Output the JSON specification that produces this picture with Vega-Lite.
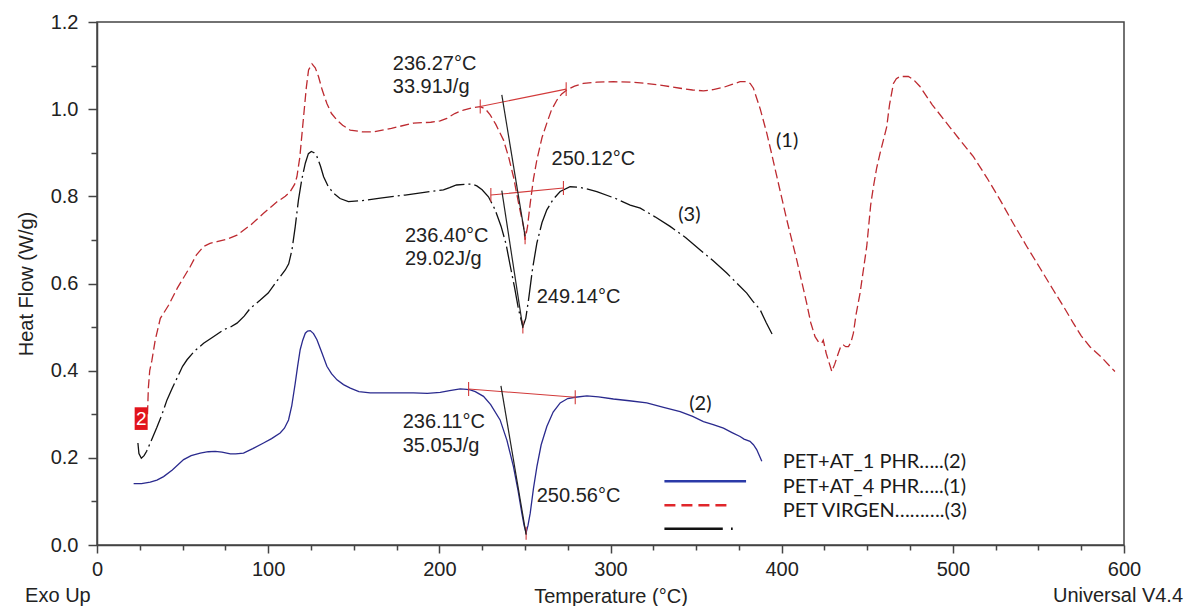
{
  "$schema": "https://vega.github.io/schema/vega-lite/v6.json",
  "width": 1027,
  "height": 523,
  "autosize": {"type": "none"},
  "padding": {"left": 97, "top": 22, "right": 64, "bottom": 61},
  "background": "white",
  "config": {
    "view": {"stroke": "#444", "strokeWidth": 1.5},
    "axis": {
      "domainColor": "#444", "domainWidth": 1.5, "tickColor": "#444", "tickWidth": 1.5,
      "labelFont": "Liberation Sans", "labelFontSize": 20, "labelColor": "#222",
      "titleFont": "Liberation Sans", "titleFontSize": 20, "titleFontWeight": "normal", "titleColor": "#222",
      "grid": false, "labelOverlap": false, "labelFlush": false
    }
  },
  "datasets": {
    "curves": [
      {"s": "r", "T": 29.5, "hf": 0.30}, {"s": "r", "T": 30.0, "hf": 0.36}, {"s": "r", "T": 30.8, "hf": 0.40}, {"s": "r", "T": 32.1, "hf": 0.424}, {"s": "r", "T": 34, "hf": 0.47}, {"s": "r", "T": 37, "hf": 0.52}, {"s": "r", "T": 41.8, "hf": 0.55}, {"s": "r", "T": 47, "hf": 0.59}, {"s": "r", "T": 54.5, "hf": 0.639}, {"s": "r", "T": 58, "hf": 0.665}, {"s": "r", "T": 62.3, "hf": 0.685}, {"s": "r", "T": 66, "hf": 0.692}, {"s": "r", "T": 70.1, "hf": 0.696}, {"s": "r", "T": 76, "hf": 0.702}, {"s": "r", "T": 81.8, "hf": 0.711}, {"s": "r", "T": 90, "hf": 0.735}, {"s": "r", "T": 97.3, "hf": 0.761}, {"s": "r", "T": 105, "hf": 0.787}, {"s": "r", "T": 110, "hf": 0.8}, {"s": "r", "T": 112.9, "hf": 0.811}, {"s": "r", "T": 115.5, "hf": 0.828}, {"s": "r", "T": 116.8, "hf": 0.845}, {"s": "r", "T": 118.5, "hf": 0.89}, {"s": "r", "T": 120.7, "hf": 0.983}, {"s": "r", "T": 122.3, "hf": 1.05}, {"s": "r", "T": 123.6, "hf": 1.09}, {"s": "r", "T": 125.6, "hf": 1.104}, {"s": "r", "T": 127.5, "hf": 1.095}, {"s": "r", "T": 129.4, "hf": 1.075}, {"s": "r", "T": 131.5, "hf": 1.045}, {"s": "r", "T": 134.3, "hf": 1.013}, {"s": "r", "T": 137, "hf": 0.99}, {"s": "r", "T": 140.2, "hf": 0.975}, {"s": "r", "T": 143.5, "hf": 0.963}, {"s": "r", "T": 147.9, "hf": 0.952}, {"s": "r", "T": 155, "hf": 0.948}, {"s": "r", "T": 161.5, "hf": 0.948}, {"s": "r", "T": 172, "hf": 0.956}, {"s": "r", "T": 184.9, "hf": 0.968}, {"s": "r", "T": 195, "hf": 0.97}, {"s": "r", "T": 200.5, "hf": 0.973}, {"s": "r", "T": 204.4, "hf": 0.979}, {"s": "r", "T": 209, "hf": 0.99}, {"s": "r", "T": 214.1, "hf": 0.998}, {"s": "r", "T": 219, "hf": 1.003}, {"s": "r", "T": 223.9, "hf": 1.006}, {"s": "r", "T": 227, "hf": 1.0}, {"s": "r", "T": 229.7, "hf": 0.987}, {"s": "r", "T": 233, "hf": 0.965}, {"s": "r", "T": 237.5, "hf": 0.929}, {"s": "r", "T": 240.5, "hf": 0.89}, {"s": "r", "T": 243.3, "hf": 0.845}, {"s": "r", "T": 246.5, "hf": 0.78}, {"s": "r", "T": 249.2, "hf": 0.731}, {"s": "r", "T": 250.1, "hf": 0.7}, {"s": "r", "T": 251.5, "hf": 0.73}, {"s": "r", "T": 253.1, "hf": 0.784}, {"s": "r", "T": 255, "hf": 0.84}, {"s": "r", "T": 257, "hf": 0.884}, {"s": "r", "T": 260, "hf": 0.935}, {"s": "r", "T": 262.8, "hf": 0.968}, {"s": "r", "T": 265.5, "hf": 0.998}, {"s": "r", "T": 268.7, "hf": 1.021}, {"s": "r", "T": 271.5, "hf": 1.035}, {"s": "r", "T": 274.5, "hf": 1.044}, {"s": "r", "T": 279, "hf": 1.053}, {"s": "r", "T": 284.2, "hf": 1.059}, {"s": "r", "T": 292, "hf": 1.062}, {"s": "r", "T": 301.7, "hf": 1.063}, {"s": "r", "T": 312, "hf": 1.062}, {"s": "r", "T": 321.2, "hf": 1.059}, {"s": "r", "T": 331, "hf": 1.054}, {"s": "r", "T": 340.7, "hf": 1.048}, {"s": "r", "T": 348, "hf": 1.044}, {"s": "r", "T": 354.3, "hf": 1.042}, {"s": "r", "T": 360, "hf": 1.045}, {"s": "r", "T": 366, "hf": 1.05}, {"s": "r", "T": 371, "hf": 1.057}, {"s": "r", "T": 375.7, "hf": 1.063}, {"s": "r", "T": 379.6, "hf": 1.063}, {"s": "r", "T": 381.6, "hf": 1.059}, {"s": "r", "T": 383.5, "hf": 1.048}, {"s": "r", "T": 384.5, "hf": 1.036}, {"s": "r", "T": 387.5, "hf": 1.0}, {"s": "r", "T": 391.3, "hf": 0.945}, {"s": "r", "T": 394, "hf": 0.9}, {"s": "r", "T": 397.2, "hf": 0.845}, {"s": "r", "T": 403, "hf": 0.746}, {"s": "r", "T": 408.8, "hf": 0.654}, {"s": "r", "T": 414.6, "hf": 0.555}, {"s": "r", "T": 417, "hf": 0.51}, {"s": "r", "T": 419.5, "hf": 0.478}, {"s": "r", "T": 421.5, "hf": 0.466}, {"s": "r", "T": 423.4, "hf": 0.463}, {"s": "r", "T": 424.3, "hf": 0.47}, {"s": "r", "T": 426, "hf": 0.44}, {"s": "r", "T": 429.3, "hf": 0.398}, {"s": "r", "T": 431, "hf": 0.415}, {"s": "r", "T": 433.1, "hf": 0.44}, {"s": "r", "T": 434.5, "hf": 0.455}, {"s": "r", "T": 436, "hf": 0.459}, {"s": "r", "T": 437.5, "hf": 0.455}, {"s": "r", "T": 439, "hf": 0.455}, {"s": "r", "T": 440.5, "hf": 0.465}, {"s": "r", "T": 441.9, "hf": 0.486}, {"s": "r", "T": 443.5, "hf": 0.53}, {"s": "r", "T": 445.8, "hf": 0.578}, {"s": "r", "T": 449.7, "hf": 0.685}, {"s": "r", "T": 452, "hf": 0.78}, {"s": "r", "T": 453.6, "hf": 0.822}, {"s": "r", "T": 455.5, "hf": 0.865}, {"s": "r", "T": 457.5, "hf": 0.899}, {"s": "r", "T": 459.5, "hf": 0.93}, {"s": "r", "T": 461.4, "hf": 0.96}, {"s": "r", "T": 463, "hf": 1.01}, {"s": "r", "T": 465.3, "hf": 1.059}, {"s": "r", "T": 467, "hf": 1.07}, {"s": "r", "T": 469.2, "hf": 1.075}, {"s": "r", "T": 474, "hf": 1.075}, {"s": "r", "T": 477, "hf": 1.068}, {"s": "r", "T": 480.8, "hf": 1.052}, {"s": "r", "T": 488, "hf": 1.01}, {"s": "r", "T": 496.4, "hf": 0.968}, {"s": "r", "T": 504, "hf": 0.93}, {"s": "r", "T": 512, "hf": 0.891}, {"s": "r", "T": 520, "hf": 0.842}, {"s": "r", "T": 527.6, "hf": 0.792}, {"s": "r", "T": 535, "hf": 0.74}, {"s": "r", "T": 543.2, "hf": 0.685}, {"s": "r", "T": 551, "hf": 0.635}, {"s": "r", "T": 558.7, "hf": 0.585}, {"s": "r", "T": 565, "hf": 0.545}, {"s": "r", "T": 570.4, "hf": 0.509}, {"s": "r", "T": 575, "hf": 0.48}, {"s": "r", "T": 580.1, "hf": 0.455}, {"s": "r", "T": 587, "hf": 0.43}, {"s": "r", "T": 594.7, "hf": 0.398},

      {"s": "k", "T": 23.9, "hf": 0.234}, {"s": "k", "T": 24.5, "hf": 0.21}, {"s": "k", "T": 25.9, "hf": 0.199}, {"s": "k", "T": 27.5, "hf": 0.205}, {"s": "k", "T": 29, "hf": 0.215}, {"s": "k", "T": 31.1, "hf": 0.234}, {"s": "k", "T": 35, "hf": 0.27}, {"s": "k", "T": 38, "hf": 0.3}, {"s": "k", "T": 40.9, "hf": 0.333}, {"s": "k", "T": 44, "hf": 0.36}, {"s": "k", "T": 47, "hf": 0.385}, {"s": "k", "T": 50, "hf": 0.41}, {"s": "k", "T": 52.6, "hf": 0.425}, {"s": "k", "T": 57, "hf": 0.445}, {"s": "k", "T": 62.3, "hf": 0.463}, {"s": "k", "T": 68, "hf": 0.478}, {"s": "k", "T": 74, "hf": 0.494}, {"s": "k", "T": 78, "hf": 0.5}, {"s": "k", "T": 81.8, "hf": 0.509}, {"s": "k", "T": 86, "hf": 0.525}, {"s": "k", "T": 89.5, "hf": 0.543}, {"s": "k", "T": 95.4, "hf": 0.562}, {"s": "k", "T": 100, "hf": 0.578}, {"s": "k", "T": 105, "hf": 0.605}, {"s": "k", "T": 110, "hf": 0.631}, {"s": "k", "T": 112, "hf": 0.645}, {"s": "k", "T": 113.9, "hf": 0.677}, {"s": "k", "T": 115.8, "hf": 0.73}, {"s": "k", "T": 117.7, "hf": 0.792}, {"s": "k", "T": 119.7, "hf": 0.84}, {"s": "k", "T": 121.7, "hf": 0.876}, {"s": "k", "T": 123.5, "hf": 0.898}, {"s": "k", "T": 125.2, "hf": 0.903}, {"s": "k", "T": 126.8, "hf": 0.9}, {"s": "k", "T": 128.5, "hf": 0.891}, {"s": "k", "T": 130.5, "hf": 0.87}, {"s": "k", "T": 132.4, "hf": 0.845}, {"s": "k", "T": 135, "hf": 0.823}, {"s": "k", "T": 138.2, "hf": 0.807}, {"s": "k", "T": 142, "hf": 0.795}, {"s": "k", "T": 146.9, "hf": 0.788}, {"s": "k", "T": 155, "hf": 0.79}, {"s": "k", "T": 165.5, "hf": 0.796}, {"s": "k", "T": 180, "hf": 0.803}, {"s": "k", "T": 194.7, "hf": 0.811}, {"s": "k", "T": 202.4, "hf": 0.815}, {"s": "k", "T": 206, "hf": 0.82}, {"s": "k", "T": 210, "hf": 0.826}, {"s": "k", "T": 216.1, "hf": 0.828}, {"s": "k", "T": 219, "hf": 0.828}, {"s": "k", "T": 221.9, "hf": 0.824}, {"s": "k", "T": 225, "hf": 0.815}, {"s": "k", "T": 228.7, "hf": 0.799}, {"s": "k", "T": 232.5, "hf": 0.77}, {"s": "k", "T": 236.1, "hf": 0.731}, {"s": "k", "T": 239, "hf": 0.69}, {"s": "k", "T": 241.5, "hf": 0.639}, {"s": "k", "T": 244, "hf": 0.59}, {"s": "k", "T": 246.3, "hf": 0.54}, {"s": "k", "T": 248.8, "hf": 0.501}, {"s": "k", "T": 250.5, "hf": 0.52}, {"s": "k", "T": 252.1, "hf": 0.562}, {"s": "k", "T": 254.5, "hf": 0.635}, {"s": "k", "T": 257, "hf": 0.693}, {"s": "k", "T": 260, "hf": 0.74}, {"s": "k", "T": 262.8, "hf": 0.769}, {"s": "k", "T": 266.5, "hf": 0.793}, {"s": "k", "T": 270.6, "hf": 0.811}, {"s": "k", "T": 276.4, "hf": 0.822}, {"s": "k", "T": 282, "hf": 0.821}, {"s": "k", "T": 292, "hf": 0.811}, {"s": "k", "T": 303, "hf": 0.795}, {"s": "k", "T": 311.5, "hf": 0.78}, {"s": "k", "T": 317.4, "hf": 0.773}, {"s": "k", "T": 326, "hf": 0.753}, {"s": "k", "T": 334.8, "hf": 0.731}, {"s": "k", "T": 344, "hf": 0.705}, {"s": "k", "T": 352.4, "hf": 0.677}, {"s": "k", "T": 360, "hf": 0.652}, {"s": "k", "T": 367.9, "hf": 0.624}, {"s": "k", "T": 374, "hf": 0.6}, {"s": "k", "T": 379.6, "hf": 0.578}, {"s": "k", "T": 383, "hf": 0.56}, {"s": "k", "T": 387.4, "hf": 0.54}, {"s": "k", "T": 391, "hf": 0.51}, {"s": "k", "T": 395.2, "hf": 0.478},

      {"s": "b", "T": 21.4, "hf": 0.141}, {"s": "b", "T": 26, "hf": 0.141}, {"s": "b", "T": 31.1, "hf": 0.144}, {"s": "b", "T": 35, "hf": 0.149}, {"s": "b", "T": 38.9, "hf": 0.157}, {"s": "b", "T": 44, "hf": 0.172}, {"s": "b", "T": 50.6, "hf": 0.196}, {"s": "b", "T": 55, "hf": 0.205}, {"s": "b", "T": 60.3, "hf": 0.211}, {"s": "b", "T": 65, "hf": 0.214}, {"s": "b", "T": 69.1, "hf": 0.215}, {"s": "b", "T": 73, "hf": 0.213}, {"s": "b", "T": 77.9, "hf": 0.209}, {"s": "b", "T": 81, "hf": 0.209}, {"s": "b", "T": 85.6, "hf": 0.211}, {"s": "b", "T": 91, "hf": 0.221}, {"s": "b", "T": 97.3, "hf": 0.234}, {"s": "b", "T": 102, "hf": 0.244}, {"s": "b", "T": 107, "hf": 0.257}, {"s": "b", "T": 109.5, "hf": 0.268}, {"s": "b", "T": 111.9, "hf": 0.287}, {"s": "b", "T": 113.8, "hf": 0.32}, {"s": "b", "T": 115.8, "hf": 0.371}, {"s": "b", "T": 117.2, "hf": 0.41}, {"s": "b", "T": 118.7, "hf": 0.448}, {"s": "b", "T": 120.2, "hf": 0.47}, {"s": "b", "T": 121.7, "hf": 0.486}, {"s": "b", "T": 123, "hf": 0.491}, {"s": "b", "T": 124.6, "hf": 0.492}, {"s": "b", "T": 126.5, "hf": 0.485}, {"s": "b", "T": 128.5, "hf": 0.471}, {"s": "b", "T": 131, "hf": 0.445}, {"s": "b", "T": 134.3, "hf": 0.41}, {"s": "b", "T": 137, "hf": 0.393}, {"s": "b", "T": 140.2, "hf": 0.379}, {"s": "b", "T": 144, "hf": 0.368}, {"s": "b", "T": 148, "hf": 0.36}, {"s": "b", "T": 153, "hf": 0.352}, {"s": "b", "T": 159.6, "hf": 0.349}, {"s": "b", "T": 170, "hf": 0.349}, {"s": "b", "T": 184.9, "hf": 0.349}, {"s": "b", "T": 193, "hf": 0.348}, {"s": "b", "T": 200.5, "hf": 0.35}, {"s": "b", "T": 206, "hf": 0.354}, {"s": "b", "T": 212.2, "hf": 0.358}, {"s": "b", "T": 216, "hf": 0.357}, {"s": "b", "T": 218, "hf": 0.356}, {"s": "b", "T": 221, "hf": 0.352}, {"s": "b", "T": 225.8, "hf": 0.341}, {"s": "b", "T": 230, "hf": 0.322}, {"s": "b", "T": 235.5, "hf": 0.287}, {"s": "b", "T": 239.5, "hf": 0.24}, {"s": "b", "T": 243.3, "hf": 0.18}, {"s": "b", "T": 246, "hf": 0.125}, {"s": "b", "T": 248.2, "hf": 0.073}, {"s": "b", "T": 249.5, "hf": 0.045}, {"s": "b", "T": 250.7, "hf": 0.028}, {"s": "b", "T": 251.8, "hf": 0.045}, {"s": "b", "T": 253.1, "hf": 0.073}, {"s": "b", "T": 255, "hf": 0.13}, {"s": "b", "T": 257, "hf": 0.18}, {"s": "b", "T": 259.5, "hf": 0.23}, {"s": "b", "T": 262.8, "hf": 0.272}, {"s": "b", "T": 266.5, "hf": 0.305}, {"s": "b", "T": 270.6, "hf": 0.326}, {"s": "b", "T": 275, "hf": 0.336}, {"s": "b", "T": 279.4, "hf": 0.339}, {"s": "b", "T": 286.2, "hf": 0.342}, {"s": "b", "T": 293, "hf": 0.34}, {"s": "b", "T": 301.7, "hf": 0.335}, {"s": "b", "T": 311, "hf": 0.331}, {"s": "b", "T": 321.2, "hf": 0.326}, {"s": "b", "T": 331, "hf": 0.316}, {"s": "b", "T": 340.7, "hf": 0.306}, {"s": "b", "T": 348, "hf": 0.295}, {"s": "b", "T": 354.3, "hf": 0.283}, {"s": "b", "T": 360, "hf": 0.276}, {"s": "b", "T": 366, "hf": 0.268}, {"s": "b", "T": 371, "hf": 0.258}, {"s": "b", "T": 375.7, "hf": 0.249}, {"s": "b", "T": 378, "hf": 0.243}, {"s": "b", "T": 381.5, "hf": 0.238}, {"s": "b", "T": 383.5, "hf": 0.23}, {"s": "b", "T": 385.4, "hf": 0.219}, {"s": "b", "T": 387, "hf": 0.205}, {"s": "b", "T": 388.4, "hf": 0.192}
    ],
    "redrules": [
      {"T": 223.9, "hf": 1.006, "T2": 274.1, "hf2": 1.046},
      {"T": 230.1, "hf": 0.803, "T2": 272.5, "hf2": 0.819},
      {"T": 217.1, "hf": 0.358, "T2": 279.4, "hf2": 0.339},
      {"T": 223.9, "hf": 0.99, "T2": 223.9, "hf2": 1.022},
      {"T": 274.1, "hf": 1.03, "T2": 274.1, "hf2": 1.062},
      {"T": 230.1, "hf": 0.787, "T2": 230.1, "hf2": 0.819},
      {"T": 272.5, "hf": 0.803, "T2": 272.5, "hf2": 0.835},
      {"T": 217.1, "hf": 0.342, "T2": 217.1, "hf2": 0.374},
      {"T": 279.4, "hf": 0.323, "T2": 279.4, "hf2": 0.355},
      {"T": 250.1, "hf": 0.69, "T2": 250.1, "hf2": 0.72},
      {"T": 248.8, "hf": 0.485, "T2": 248.8, "hf2": 0.515},
      {"T": 250.7, "hf": 0.012, "T2": 250.7, "hf2": 0.042}
    ],
    "tangents": [
      {"T": 236.5, "hf": 1.033, "T2": 250.1, "hf2": 0.708},
      {"T": 236.5, "hf": 0.813, "T2": 248.8, "hf2": 0.498},
      {"T": 236.0, "hf": 0.365, "T2": 250.7, "hf2": 0.024}
    ],
    "annot": [
      {"T": 172.8, "hf": 1.09, "txt": "236.27°C"},
      {"T": 172.8, "hf": 1.037, "txt": "33.91J/g"},
      {"T": 265.6, "hf": 0.872, "txt": "250.12°C"},
      {"T": 179.9, "hf": 0.696, "txt": "236.40°C"},
      {"T": 179.9, "hf": 0.642, "txt": "29.02J/g"},
      {"T": 256.9, "hf": 0.555, "txt": "249.14°C"},
      {"T": 178.6, "hf": 0.268, "txt": "236.11°C"},
      {"T": 178.6, "hf": 0.214, "txt": "35.05J/g"},
      {"T": 256.9, "hf": 0.099, "txt": "250.56°C"},
      {"T": -42.0, "hf": -0.131, "txt": "Exo Up"},
      {"T": 558.5, "hf": -0.131, "txt": "Universal V4.4"}
    ],
    "labels": [
      {"T": 396.7, "hf": 0.913, "txt": "(1)"},
      {"T": 339.6, "hf": 0.743, "txt": "(3)"},
      {"T": 346.0, "hf": 0.31, "txt": "(2)"},
      {"T": 400.6, "hf": 0.177, "txt": "PET+AT_1 PHR…..(2)"},
      {"T": 400.6, "hf": 0.119, "txt": "PET+AT_4 PHR…..(1)"},
      {"T": 400.6, "hf": 0.064, "txt": "PET VIRGEN……….(3)"}
    ],
    "legblue": [{"T": 331.5, "hf": 0.146, "T2": 379.2, "hf2": 0.146}],
    "legred": [{"T": 331.5, "hf": 0.091, "T2": 368.7, "hf2": 0.091}],
    "legblack": [{"T": 331.5, "hf": 0.037, "T2": 365.6, "hf2": 0.037}, {"T": 370.4, "hf": 0.037, "T2": 371.4, "hf2": 0.037}],
    "marker": [{"T": 22.0, "hf": 0.316, "T2": 29.6, "hf2": 0.264, "Tc": 25.8, "hc": 0.29, "txt": "2"}]
  },
  "layer": [
    {
      "data": {"name": "curves"},
      "transform": [{"filter": "datum.s == 'b'"}],
      "mark": {"type": "line", "color": "#2a2a8e", "strokeWidth": 1.3},
      "encoding": {
        "x": {"field": "T", "type": "quantitative", "scale": {"domain": [0, 600], "nice": false, "zero": false},
          "axis": {
            "title": "Temperature (°C)",
            "values": [0, 25, 50, 75, 100, 125, 150, 175, 200, 225, 250, 275, 300, 325, 350, 375, 400, 425, 450, 475, 500, 525, 550, 575, 600],
            "labelExpr": "datum.value % 100 == 0 ? datum.label : ''",
            "tickSize": {"condition": {"test": "datum.value % 100 == 0", "value": 8}, "value": 5},
            "labelBaseline": "alphabetic", "labelPadding": 22,
            "titleBaseline": "alphabetic", "titleY": 57
          }},
        "y": {"field": "hf", "type": "quantitative", "scale": {"domain": [0, 1.2], "nice": false, "zero": false},
          "axis": {
            "title": "Heat Flow (W/g)",
            "values": [0, 0.05, 0.1, 0.15, 0.2, 0.25, 0.3, 0.35, 0.4, 0.45, 0.5, 0.55, 0.6, 0.65, 0.7, 0.75, 0.8, 0.85, 0.9, 0.95, 1.0, 1.05, 1.1, 1.15, 1.2],
            "labelExpr": "round(datum.value * 100) % 20 == 0 ? format(datum.value, '.1f') : ''",
            "tickSize": {"condition": {"test": "round(datum.value * 100) % 20 == 0", "value": 9}, "value": 6},
            "labelPadding": 10,
            "titleBaseline": "alphabetic", "titleX": -65, "titleY": 261.5, "titleAngle": -90, "titleAlign": "center"
          }}
      }
    },
    {
      "data": {"name": "curves"},
      "transform": [{"filter": "datum.s == 'k'"}],
      "mark": {"type": "line", "color": "#111", "strokeWidth": 1.3, "strokeDash": [26, 4, 2, 4]},
      "encoding": {"x": {"field": "T", "type": "quantitative"}, "y": {"field": "hf", "type": "quantitative"}}
    },
    {
      "data": {"name": "curves"},
      "transform": [{"filter": "datum.s == 'r'"}],
      "mark": {"type": "line", "color": "#bd2a30", "strokeWidth": 1.3, "strokeDash": [9, 4]},
      "encoding": {"x": {"field": "T", "type": "quantitative"}, "y": {"field": "hf", "type": "quantitative"}}
    },
    {
      "data": {"name": "redrules"},
      "mark": {"type": "rule", "color": "#d23a3a", "strokeWidth": 1.1},
      "encoding": {"x": {"field": "T", "type": "quantitative"}, "y": {"field": "hf", "type": "quantitative"}, "x2": {"field": "T2"}, "y2": {"field": "hf2"}}
    },
    {
      "data": {"name": "tangents"},
      "mark": {"type": "rule", "color": "#222", "strokeWidth": 1.2},
      "encoding": {"x": {"field": "T", "type": "quantitative"}, "y": {"field": "hf", "type": "quantitative"}, "x2": {"field": "T2"}, "y2": {"field": "hf2"}}
    },
    {
      "data": {"name": "legblue"},
      "mark": {"type": "rule", "color": "#2b3aa8", "strokeWidth": 2.5},
      "encoding": {"x": {"field": "T", "type": "quantitative"}, "y": {"field": "hf", "type": "quantitative"}, "x2": {"field": "T2"}, "y2": {"field": "hf2"}}
    },
    {
      "data": {"name": "legred"},
      "mark": {"type": "rule", "color": "#e0262b", "strokeWidth": 2.5, "strokeDash": [11, 6]},
      "encoding": {"x": {"field": "T", "type": "quantitative"}, "y": {"field": "hf", "type": "quantitative"}, "x2": {"field": "T2"}, "y2": {"field": "hf2"}}
    },
    {
      "data": {"name": "legblack"},
      "mark": {"type": "rule", "color": "#111", "strokeWidth": 2.5},
      "encoding": {"x": {"field": "T", "type": "quantitative"}, "y": {"field": "hf", "type": "quantitative"}, "x2": {"field": "T2"}, "y2": {"field": "hf2"}}
    },
    {
      "data": {"name": "marker"},
      "mark": {"type": "rect", "color": "#e2141c"},
      "encoding": {"x": {"field": "T", "type": "quantitative"}, "y": {"field": "hf", "type": "quantitative"}, "x2": {"field": "T2"}, "y2": {"field": "hf2"}}
    },
    {
      "data": {"name": "marker"},
      "mark": {"type": "text", "color": "white", "font": "Liberation Sans", "fontSize": 19, "align": "center", "baseline": "middle"},
      "encoding": {"x": {"field": "Tc", "type": "quantitative"}, "y": {"field": "hc", "type": "quantitative"}, "text": {"field": "txt"}}
    },
    {
      "data": {"name": "annot"},
      "mark": {"type": "text", "color": "#222", "font": "Liberation Sans", "fontSize": 20, "align": "left", "baseline": "alphabetic"},
      "encoding": {"x": {"field": "T", "type": "quantitative"}, "y": {"field": "hf", "type": "quantitative"}, "text": {"field": "txt"}}
    },
    {
      "data": {"name": "labels"},
      "mark": {"type": "text", "color": "#1a1a1a", "font": "Lato", "fontSize": 20, "align": "left", "baseline": "alphabetic"},
      "encoding": {"x": {"field": "T", "type": "quantitative"}, "y": {"field": "hf", "type": "quantitative"}, "text": {"field": "txt"}}
    }
  ]
}
